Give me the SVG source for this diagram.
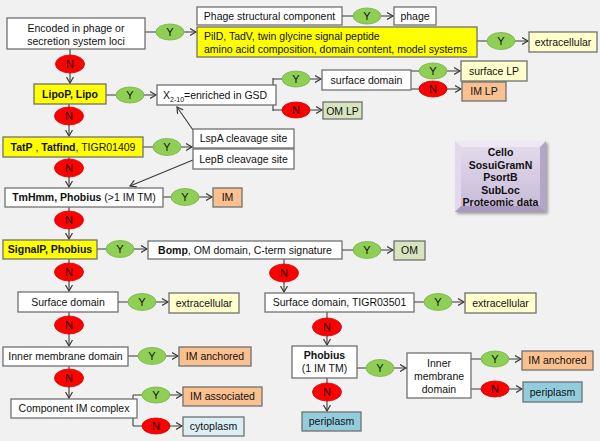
<svg xmlns="http://www.w3.org/2000/svg" width="600" height="441" viewBox="0 0 600 441">
<defs>
<marker id="arr" markerUnits="userSpaceOnUse" markerWidth="10" markerHeight="10" refX="6.5" refY="4" orient="auto">
<path d="M0.5,0.5 L6.5,4 L0.5,7.5" fill="none" stroke="#3a3a3a" stroke-width="1.2"/>
</marker>
<linearGradient id="pg" x1="0" y1="0" x2="0" y2="1">
<stop offset="0" stop-color="#e4dcee"/>
<stop offset="1" stop-color="#c6bad6"/>
</linearGradient>
<filter id="sh" x="-10%" y="-10%" width="130%" height="130%">
<feGaussianBlur in="SourceAlpha" stdDeviation="1.5"/>
<feOffset dx="1.5" dy="2" result="b"/>
<feComponentTransfer><feFuncA type="linear" slope="0.35"/></feComponentTransfer>
<feMerge><feMergeNode/><feMergeNode in="SourceGraphic"/></feMerge>
</filter>
</defs>
<style>
text{font-family:"Liberation Sans",Arial,sans-serif;font-size:10.5px;fill:#111}
.c{text-anchor:middle}
.b{font-weight:bold}
rect.n{stroke:#707070;stroke-width:1.3}
.w{fill:#ffffff}
.yl{fill:#ffff00}
.ly{fill:#ffffcc}
.or{fill:#fac090}
.gr{fill:#d7e4bd}
.cy{fill:#dbeef4}
.pe{fill:#93cddd}
.ln{fill:none;stroke:#3a3a3a;stroke-width:1.1}
.a{marker-end:url(#arr)}
.Y{fill:#8fcf55;stroke:#7ab348;stroke-width:0.8}
.N{fill:#ff0000;stroke:#d40000;stroke-width:0.8}
.lt{font-size:11px}
</style>
<rect width="600" height="441" fill="#f1f1f1"/>

<g id="connectors">
<path class="ln a" d="M145,32 H196"/>
<path class="ln a" d="M342,16 H393"/>
<path class="ln a" d="M477,41 H528"/>
<path class="ln a" d="M70,49 V83"/>
<path class="ln a" d="M106,95 H156"/>
<path class="ln" d="M273,78 V111"/>
<path class="ln a" d="M273,79 H321"/>
<path class="ln a" d="M273,110 H322"/>
<path class="ln" d="M410,71 V89"/>
<path class="ln a" d="M410,71 H460"/>
<path class="ln a" d="M410,89 H461"/>
<path class="ln a" d="M69,104 V136"/>
<path class="ln a" d="M143,147 H192"/>
<path class="ln a" d="M193,130 L177,107"/>
<path class="ln a" d="M193,160 L130,186"/>
<path class="ln a" d="M69,157 V187"/>
<path class="ln a" d="M163,197 H212"/>
<path class="ln a" d="M69,207 V239"/>
<path class="ln a" d="M97,249 H147"/>
<path class="ln a" d="M342,250 H393"/>
<path class="ln a" d="M284,259 V292"/>
<path class="ln a" d="M69,259 V291"/>
<path class="ln a" d="M118,302 H168"/>
<path class="ln a" d="M414,302 H464"/>
<path class="ln a" d="M69,312 V346"/>
<path class="ln a" d="M128,356 H178"/>
<path class="ln a" d="M327,312 V345"/>
<path class="ln a" d="M69,366 V398"/>
<path class="ln" d="M133,395 V426"/>
<path class="ln a" d="M133,395 H182"/>
<path class="ln a" d="M133,426 H182"/>
<path class="ln a" d="M357,368 H406"/>
<path class="ln a" d="M327,378 V411"/>
<path class="ln a" d="M471,359 H521"/>
<path class="ln a" d="M471,389 H522"/>
</g>

<g id="decisions">
<ellipse class="Y" cx="170" cy="32" rx="14" ry="8"/><text class="c lt" x="170" y="36">Y</text>
<ellipse class="Y" cx="367" cy="16" rx="14" ry="8"/><text class="c lt" x="367" y="20">Y</text>
<ellipse class="Y" cx="501" cy="41" rx="14" ry="8.5"/><text class="c lt" x="501" y="45">Y</text>
<ellipse class="Y" cx="130" cy="95" rx="14" ry="8"/><text class="c lt" x="130" y="99">Y</text>
<ellipse class="Y" cx="296" cy="79" rx="14" ry="8"/><text class="c lt" x="296" y="83">Y</text>
<ellipse class="Y" cx="433" cy="71" rx="14" ry="8"/><text class="c lt" x="433" y="75">Y</text>
<ellipse class="Y" cx="167" cy="147" rx="14" ry="8.5"/><text class="c lt" x="167" y="151">Y</text>
<ellipse class="Y" cx="185" cy="197" rx="14" ry="8.5"/><text class="c lt" x="185" y="201">Y</text>
<ellipse class="Y" cx="120" cy="249" rx="14" ry="8.5"/><text class="c lt" x="120" y="253">Y</text>
<ellipse class="Y" cx="367" cy="250" rx="14" ry="8.5"/><text class="c lt" x="367" y="254">Y</text>
<ellipse class="Y" cx="142" cy="302" rx="14" ry="8.5"/><text class="c lt" x="142" y="306">Y</text>
<ellipse class="Y" cx="438" cy="302" rx="14" ry="8.5"/><text class="c lt" x="438" y="306">Y</text>
<ellipse class="Y" cx="152" cy="356" rx="14" ry="8.5"/><text class="c lt" x="152" y="360">Y</text>
<ellipse class="Y" cx="156" cy="395" rx="14" ry="8"/><text class="c lt" x="156" y="399">Y</text>
<ellipse class="Y" cx="380" cy="368" rx="14" ry="8.5"/><text class="c lt" x="380" y="372">Y</text>
<ellipse class="Y" cx="495" cy="359" rx="14" ry="8"/><text class="c lt" x="495" y="363">Y</text>
<ellipse class="N" cx="70" cy="64" rx="14.5" ry="9"/><text class="c lt" x="70" y="68">N</text>
<ellipse class="N" cx="296" cy="110" rx="14" ry="8"/><text class="c lt" x="296" y="114">N</text>
<ellipse class="N" cx="433" cy="89" rx="14" ry="8"/><text class="c lt" x="433" y="93">N</text>
<ellipse class="N" cx="69" cy="116" rx="14.5" ry="9"/><text class="c lt" x="69" y="120">N</text>
<ellipse class="N" cx="69" cy="168" rx="14.5" ry="9"/><text class="c lt" x="69" y="172">N</text>
<ellipse class="N" cx="69" cy="220" rx="14.5" ry="9"/><text class="c lt" x="69" y="224">N</text>
<ellipse class="N" cx="69" cy="272" rx="14.5" ry="9"/><text class="c lt" x="69" y="276">N</text>
<ellipse class="N" cx="284" cy="273" rx="14.5" ry="9"/><text class="c lt" x="284" y="277">N</text>
<ellipse class="N" cx="69" cy="325" rx="14.5" ry="9"/><text class="c lt" x="69" y="329">N</text>
<ellipse class="N" cx="69" cy="378" rx="14.5" ry="9"/><text class="c lt" x="69" y="382">N</text>
<ellipse class="N" cx="156" cy="426" rx="14" ry="8"/><text class="c lt" x="156" y="430">N</text>
<ellipse class="N" cx="327" cy="327" rx="14.5" ry="9"/><text class="c lt" x="327" y="331">N</text>
<ellipse class="N" cx="327" cy="392" rx="14.5" ry="9"/><text class="c lt" x="327" y="396">N</text>
<ellipse class="N" cx="495" cy="389" rx="14" ry="8"/><text class="c lt" x="495" y="393">N</text>
</g>

<g id="encoded"><rect class="n w" x="7" y="18" width="138" height="31"/><text class="c" x="76" y="32">Encoded in phage or</text><text class="c" x="76" y="45">secretion system loci</text></g>
<g id="phage-structural"><rect class="n w" x="197" y="7" width="145" height="18"/><text class="c" x="269.5" y="20">Phage structural component</text></g>
<g id="phage"><rect class="n w" x="394" y="7" width="42" height="18"/><text class="c" x="415" y="20">phage</text></g>
<g id="pild"><rect class="n yl" x="197" y="27" width="280" height="30"/><text x="204" y="40">PilD, TadV, twin glycine signal peptide</text><text x="204" y="53">amino acid composition, domain content, model systems</text></g>
<g id="extracellular1"><rect class="n ly" x="529" y="32" width="68" height="20"/><text class="c" x="563" y="46">extracellular</text></g>
<g id="lipop"><rect class="n yl" x="34" y="84" width="72" height="20"/><text class="c b" x="70" y="98">LipoP, Lipo</text></g>
<g id="x210"><rect class="n w" x="157" y="85" width="119" height="20"/><text x="163" y="99">X<tspan font-size="7" dy="3">2-10</tspan><tspan dy="-3">=enriched in GSD</tspan></text></g>
<g id="surface-domain-lp"><rect class="n w" x="322" y="70" width="89" height="20"/><text class="c" x="366.5" y="84">surface domain</text></g>
<g id="om-lp"><rect class="n gr" x="323" y="102" width="39" height="17"/><text class="c" x="342.5" y="114.5">OM LP</text></g>
<g id="surface-lp"><rect class="n ly" x="461" y="61" width="66" height="20"/><text class="c" x="494" y="75">surface LP</text></g>
<g id="im-lp"><rect class="n or" x="462" y="82" width="44" height="19"/><text class="c" x="484" y="95">IM LP</text></g>
<g id="tatp"><rect class="n yl" x="3" y="137" width="140" height="20"/><text class="c" x="73" y="151"><tspan class="b">TatP</tspan> , <tspan class="b">Tatfind</tspan>, TIGR01409</text></g>
<g id="lspa"><rect class="n w" x="193" y="129" width="101" height="19"/><text class="c" x="243.5" y="142">LspA cleavage site</text></g>
<g id="lepb"><rect class="n w" x="193" y="149" width="101" height="20"/><text class="c" x="243.5" y="163">LepB cleavage site</text></g>
<g id="tmhmm"><rect class="n w" x="5" y="188" width="158" height="19"/><text class="c" x="84" y="201"><tspan class="b">TmHmm, Phobius</tspan> (&gt;1 IM TM)</text></g>
<g id="im"><rect class="n or" x="213" y="188" width="29" height="19"/><text class="c" x="227.5" y="201">IM</text></g>
<g id="signalp"><rect class="n yl" x="3" y="240" width="94" height="19"/><text class="c b" x="50" y="253">SignalP, Phobius</text></g>
<g id="bomp"><rect class="n w" x="148" y="241" width="194" height="18"/><text class="c" x="245" y="254"><tspan class="b">Bomp</tspan>, OM domain, C-term signature</text></g>
<g id="om"><rect class="n gr" x="394" y="241" width="31" height="19"/><text class="c" x="409.5" y="254">OM</text></g>
<g id="surface-domain"><rect class="n w" x="18" y="292" width="100" height="20"/><text class="c" x="68" y="306">Surface domain</text></g>
<g id="extracellular2"><rect class="n ly" x="169" y="293" width="70" height="20"/><text class="c" x="204" y="307">extracellular</text></g>
<g id="surface-tigr"><rect class="n w" x="265" y="293" width="149" height="19"/><text class="c" x="339.5" y="306">Surface domain, TIGR03501</text></g>
<g id="extracellular3"><rect class="n ly" x="465" y="293" width="71" height="20"/><text class="c" x="500.5" y="307">extracellular</text></g>
<g id="inner-membrane1"><rect class="n w" x="3" y="347" width="125" height="19"/><text class="c" x="65.5" y="360">Inner membrane domain</text></g>
<g id="im-anchored1"><rect class="n or" x="179" y="347" width="72" height="19"/><text class="c" x="215" y="360">IM anchored</text></g>
<g id="component"><rect class="n w" x="11" y="399" width="126" height="19"/><text class="c" x="74" y="412">Component IM complex</text></g>
<g id="im-associated"><rect class="n or" x="183" y="387" width="79" height="19"/><text class="c" x="222.5" y="400">IM associated</text></g>
<g id="cytoplasm"><rect class="n cy" x="183" y="417" width="61" height="19"/><text class="c" x="213.5" y="430">cytoplasm</text></g>
<g id="phobius"><rect class="n w" x="292" y="346" width="65" height="32"/><text class="c b" x="324.5" y="359">Phobius</text><text class="c" x="324.5" y="372">(1 IM TM)</text></g>
<g id="inner-membrane2"><rect class="n w" x="407" y="353" width="64" height="45"/><text class="c" x="439" y="367">Inner</text><text class="c" x="439" y="380">membrane</text><text class="c" x="439" y="393">domain</text></g>
<g id="im-anchored2"><rect class="n or" x="522" y="351" width="71" height="19"/><text class="c" x="557.5" y="364">IM anchored</text></g>
<g id="periplasm2"><rect class="n pe" x="523" y="382" width="59" height="20"/><text class="c" x="552.5" y="396">periplasm</text></g>
<g id="periplasm1"><rect class="n pe" x="302" y="412" width="59" height="19"/><text class="c" x="331.5" y="425">periplasm</text></g>
<g id="tools">
<g filter="url(#sh)">
<rect x="455" y="141" width="91" height="71" fill="url(#pg)"/>
<polygon points="455,141 546,141 540,147 461,147" fill="#eee8f4"/>
<polygon points="455,141 461,147 461,206 455,212" fill="#e2daec"/>
<polygon points="546,141 546,212 540,206 540,147" fill="#b4a7c6"/>
<polygon points="455,212 461,206 540,206 546,212" fill="#a99bbd"/>
</g>
<text class="c b" x="500.5" y="156">Cello</text>
<text class="c b" x="500.5" y="168.5">SosuiGramN</text>
<text class="c b" x="500.5" y="181">PsortB</text>
<text class="c b" x="500.5" y="193.5">SubLoc</text>
<text class="c b" x="500.5" y="206">Proteomic data</text>
</g>
</svg>
